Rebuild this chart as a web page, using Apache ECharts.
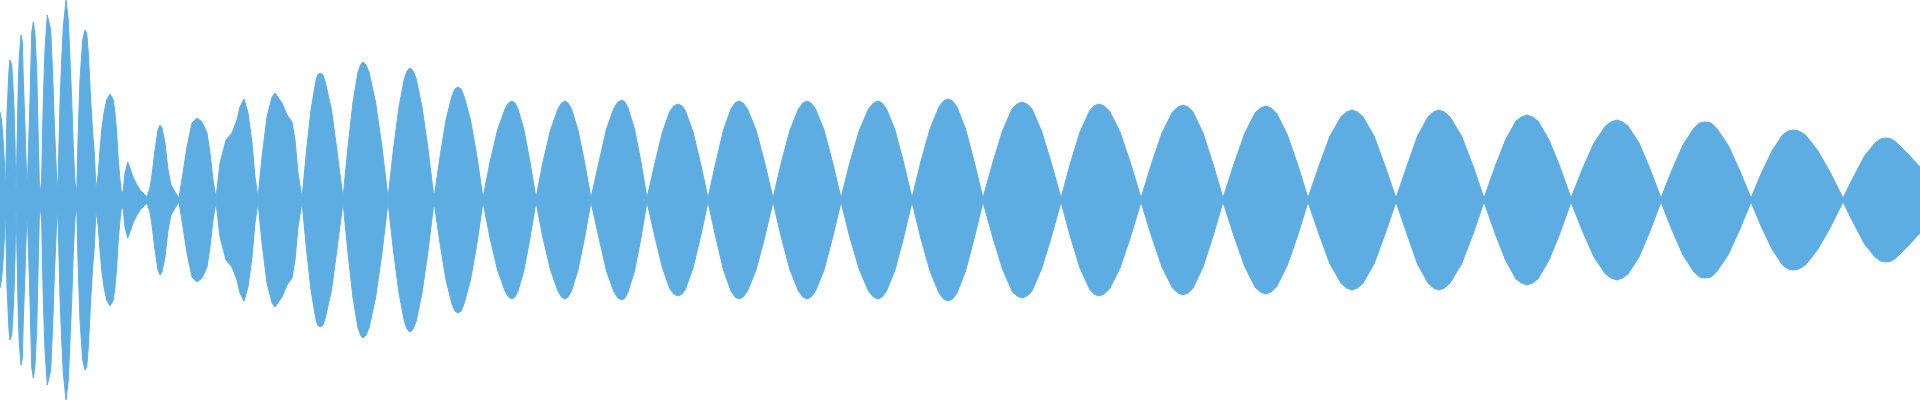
<!DOCTYPE html>
<html>
<head>
<meta charset="utf-8">
<script src="https://cdn.jsdelivr.net/npm/echarts@6/dist/echarts.min.js"></script>
<style>
html,body{margin:0;padding:0;background:#ffffff;}
#chart{width:1920px;height:400px;}
</style>
</head>
<body>
<div id="chart"></div>
<script>
// sample positions (time units) and envelope amplitude
const t = [
  0, 1.5, 3, 4.5, 5.5,
  6, 7, 9, 10, 11.7, 12.7, 14, 15, 15.7, 16.2,
  16.7, 18.3, 19.3, 21, 22.3, 23.3, 25, 26, 27.3,
  28.3, 30, 31.7, 33.3, 35, 36.7, 38.3, 39.3, 40.7,
  41.7, 43.3, 45, 47.3, 49, 50.7, 52.7, 54.3, 56, 57.3,
  58.3, 60, 61.7, 63.3, 66, 68.3, 70, 71.7, 73.3, 75, 76.7,
  78.3, 80, 82.7, 85, 86.7, 88.3, 90.7, 92.7, 94.3, 96, 97,
  98.3, 100, 101.7, 104, 106.7, 110, 113.3, 115, 116.7, 118.3, 120, 121.7,
  123.3, 125, 127.7, 130, 133, 137, 140, 144, 147,
  150, 152, 155, 158, 160, 162, 165, 168, 171, 175, 179,
  183, 187, 192, 197, 202, 207, 210, 213, 216,
  220, 226, 232, 237, 240, 244, 248, 252, 255, 258,
  262, 267, 272, 275, 282, 287, 292, 295, 298, 302,
  306.5, 311, 315.5, 317.5, 320, 323, 325.5, 331.5, 337, 343,
  348, 353, 358, 360.5, 363, 366, 369, 375.5, 382, 388,
  393.5, 399, 404.5, 407, 410, 413, 416, 422, 428, 434,
  440, 446, 452, 455, 458, 461, 464, 470.5, 477, 483,
  490, 497.5, 505, 508.5, 512, 515, 518, 524, 530, 536,
  543, 550.5, 558, 561.5, 565, 568, 571.5, 578, 584.5, 591,
  599, 606.5, 614, 618, 622, 625, 628, 634.5, 641, 647,
  655, 662.5, 670, 674, 678, 682, 685.5, 693, 700.5, 708,
  716, 723.5, 731, 735, 739, 743, 747.5, 756, 764.5, 773,
  781.5, 790, 798.5, 803, 807, 811, 815.5, 824, 832.5, 841,
  850, 859.5, 868.5, 873.5, 878, 882, 886.5, 895, 903.5, 912,
  921, 930, 939, 943.5, 948, 952.5, 957, 965.5, 974, 983,
  993, 1002.5, 1012, 1017, 1022, 1027, 1032, 1041.5, 1051, 1061,
  1070.5, 1080, 1089.5, 1094, 1099, 1104, 1109.5, 1120, 1130.5, 1141,
  1151.5, 1162, 1172.5, 1178, 1183, 1188, 1193, 1203, 1213, 1223,
  1234, 1244.5, 1255, 1260.5, 1266, 1271, 1276.5, 1287, 1297.5, 1308,
  1319, 1330, 1341, 1346.5, 1352, 1357.5, 1363, 1374, 1385, 1396,
  1407, 1417.5, 1428, 1433.5, 1439, 1444.5, 1450, 1461.5, 1473, 1484,
  1495, 1505.5, 1516, 1521.5, 1527, 1532.5, 1538, 1549, 1560, 1571,
  1582.5, 1594, 1605.5, 1611, 1617, 1622.5, 1628, 1639, 1650, 1661,
  1672, 1683, 1694, 1699.5, 1705, 1711, 1716.5, 1728, 1739.5, 1751,
  1761.5, 1772, 1782.5, 1788, 1793, 1799, 1805.5, 1818, 1830.5, 1843,
  1854, 1864.5, 1875, 1880.5, 1886, 1891.5, 1897, 1908, 1920
];
const amp = [
  88, 80, 62, 35, 10,
  37, 87, 130, 140, 135, 120, 93, 57, 15, 10,
  37, 117, 143, 165, 158, 120, 73, 40, 12,
  45, 100, 167, 178, 165, 130, 60, 18, 8,
  23, 100, 150, 185, 187, 170, 125, 77, 37, 8,
  27, 97, 140, 173, 200, 180, 140, 100, 53, 17, 8,
  70, 120, 160, 170, 167, 147, 100, 67, 47, 10, 8,
  27, 50, 70, 87, 100, 106, 100, 87, 67, 40, 20, 5,
  10, 27, 38, 32, 23, 15, 10, 6, 3,
  12, 25, 50, 70, 75, 72, 57, 30, 15, 8, 2,
  27, 53, 77, 82, 78, 67, 47, 20, 2,
  37, 60, 67, 80, 93, 101, 87, 57, 23, 2,
  43, 83, 103, 107, 97, 85, 78, 60, 27, 2,
  49, 90, 117, 125, 127, 125, 117, 90, 49, 2,
  53, 98, 128, 135, 138, 135, 128, 98, 53, 2,
  51, 93, 122, 129, 132, 129, 122, 93, 51, 2,
  43, 80, 104, 111, 113, 111, 104, 80, 43, 2,
  38, 70, 91, 97, 99, 97, 91, 70, 38, 2,
  38, 70, 91, 97, 99, 97, 91, 70, 38, 2,
  38, 71, 92, 98, 100, 98, 92, 71, 38, 2,
  37, 68, 89, 94, 96, 94, 89, 68, 37, 2,
  38, 70, 91, 97, 99, 97, 91, 70, 38, 2,
  38, 70, 91, 97, 99, 97, 91, 70, 38, 2,
  38, 70, 91, 97, 99, 97, 91, 70, 38, 2,
  39, 71, 93, 99, 101, 99, 93, 71, 39, 2,
  38, 69, 91, 96, 98, 96, 91, 69, 38, 2,
  37, 68, 89, 94, 96, 94, 89, 68, 37, 2,
  36, 67, 88, 93, 95, 93, 88, 67, 36, 2,
  36, 66, 87, 92, 94, 92, 87, 66, 36, 2,
  34, 64, 83, 88, 90, 88, 83, 64, 34, 2,
  34, 64, 83, 88, 90, 88, 83, 64, 34, 2,
  33, 60, 79, 83, 85, 83, 79, 60, 33, 2,
  31, 57, 74, 78, 80, 78, 74, 57, 31, 2,
  30, 55, 72, 77, 78, 77, 72, 55, 30, 2,
  27, 49, 65, 69, 70, 69, 65, 49, 27, 2,
  24, 44, 57, 61, 62, 61, 57, 46, 33
];

const color = '#5dade2';
const upper = t.map((x, i) => [x, amp[i]]);
const lower = t.map((x, i) => [x, -amp[i]]);

const chart = echarts.init(document.getElementById('chart'), null, {renderer: 'canvas'});
const lineSeries = (data) => ({
  type: 'line',
  data: data,
  symbol: 'none',
  showSymbol: false,
  smooth: false,
  silent: true,
  lineStyle: {color: color, width: 1},
  areaStyle: {color: color, opacity: 1},
  itemStyle: {color: color}
});
chart.setOption({
  animation: false,
  backgroundColor: '#ffffff',
  grid: {left: 0, right: 0, top: 0, bottom: 0, containLabel: false},
  xAxis: {type: 'value', min: 0, max: 1920, show: false},
  yAxis: {type: 'value', min: -200, max: 200, show: false},
  series: [lineSeries(upper), lineSeries(lower)]
});
</script>
</body>
</html>
